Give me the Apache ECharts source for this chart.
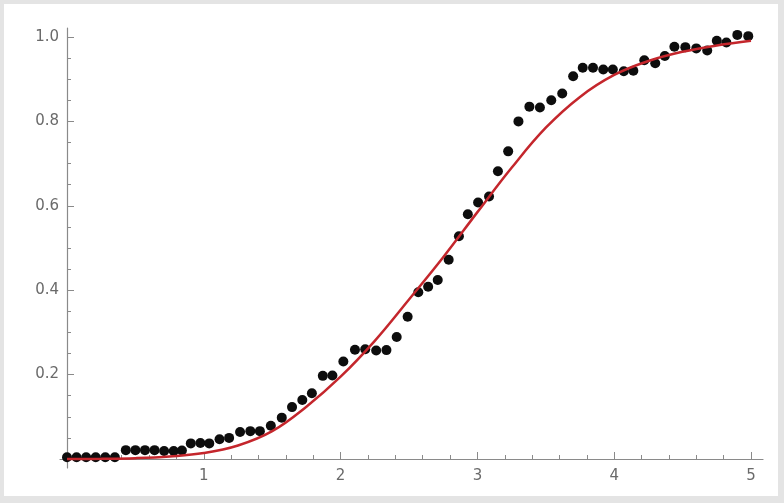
<!DOCTYPE html>
<html>
<head>
<meta charset="utf-8">
<script src="https://cdn.jsdelivr.net/npm/echarts@6.0.0/dist/echarts.min.js"></script>
<style>
  html, body { margin:0; padding:0; background:#e4e4e4; }
  #main { position:absolute; left:4px; top:4px; width:774px; height:492px; background:#fff; }
</style>
</head>
<body>
<div id="main"></div>
<script>
var dotX = [0, 0.07, 0.14, 0.21, 0.28, 0.35, 0.43, 0.50, 0.57, 0.64, 0.71, 0.78, 0.84,
	0.905, 0.975, 1.04, 1.115, 1.185, 1.265, 1.34, 1.41, 1.49, 1.57, 1.645, 1.72, 1.79,
	1.87, 1.94, 2.02, 2.105, 2.18, 2.26, 2.335, 2.41, 2.49, 2.568, 2.64, 2.71, 2.79,
	2.865, 2.93, 3.005, 3.085, 3.15, 3.225, 3.30, 3.38, 3.457, 3.54, 3.62, 3.70, 3.77,
	3.845, 3.92, 3.99, 4.07, 4.14, 4.22, 4.30, 4.37, 4.44, 4.52, 4.60, 4.68, 4.75,
	4.82, 4.90, 4.98];
var dotY = [0.004, 0.004, 0.004, 0.004, 0.004, 0.004, 0.021, 0.021, 0.021, 0.021, 0.019, 0.019, 0.02,
	0.037, 0.038, 0.037, 0.047, 0.05, 0.064, 0.066, 0.066, 0.079, 0.098, 0.123, 0.14, 0.156,
	0.197, 0.198, 0.231, 0.259, 0.26, 0.257, 0.258, 0.289, 0.337, 0.395, 0.408, 0.424, 0.472,
	0.528, 0.58, 0.608, 0.622, 0.682, 0.729, 0.80, 0.835, 0.833, 0.85, 0.866, 0.907, 0.927,
	0.927, 0.923, 0.923, 0.919, 0.92, 0.945, 0.938, 0.955, 0.977, 0.976, 0.973, 0.968, 0.991,
	0.987, 1.005, 1.002];

// fitted curve
var fitX = [0, 0.25, 0.5, 0.75, 1.0, 1.25, 1.5, 1.75, 2.0, 2.25, 2.5, 2.75, 3.0, 3.25,
	3.5, 3.75, 4.0, 4.25, 4.5, 4.75, 5.0];
var fitY = [0, 0.0005, 0.002, 0.006, 0.014, 0.032, 0.066, 0.124, 0.195, 0.28, 0.378, 0.478,
	0.585, 0.69, 0.785, 0.858, 0.91, 0.943, 0.965, 0.98, 0.991];

var xTicks = [0, 1, 2, 3, 4, 5];
var yTicks = [0, 0.2, 0.4, 0.6, 0.8, 1.0];

var Fitplot = {
	grey: '#8a8a8a',
	labelGrey: '#6a6a6a',

	pairs: function(xs, ys){
		var out = [];
		for (var i = 0; i < xs.length; i++) {
			out.push([xs[i], ys[i]]);
		}
		return out;
	},

	option: function(){
		var g = Fitplot.grey;
		return {
			animation: false,
			backgroundColor: '#fff',
			grid: [
				// data area
				{ left: 63, top: 33, width: 684, height: 422 },
				// slightly bigger box, only for the axis lines running past the ticks
				{ left: 56, top: 24, width: 703, height: 440 }
			],
			xAxis: [{
				type: 'value', gridIndex: 0,
				min: xTicks[0], max: xTicks[xTicks.length - 1], interval: 1,
				axisLine: { show: false },
				axisTick: { show: true, inside: true, length: 7, lineStyle: { color: g } },
				minorTick: { show: true, splitNumber: 5, length: 4, lineStyle: { color: g } },
				splitLine: { show: false },
				axisLabel: {
					color: Fitplot.labelGrey, fontSize: 15, fontFamily: 'DejaVu Sans', margin: 10,
					formatter: function(v){ return v === 0 ? '' : String(v); }
				}
			}, {
				type: 'value', gridIndex: 1, min: -0.051, max: 5.088,
				axisLine: { show: true, onZero: true, lineStyle: { color: g, width: 1.2 } },
				axisTick: { show: false }, axisLabel: { show: false }, splitLine: { show: false }
			}],
			yAxis: [{
				type: 'value', gridIndex: 0,
				min: yTicks[0], max: yTicks[yTicks.length - 1], interval: 0.2,
				axisLine: { show: false },
				axisTick: { show: true, inside: true, length: 7, lineStyle: { color: g } },
				minorTick: { show: true, splitNumber: 4, length: 4, lineStyle: { color: g } },
				splitLine: { show: false },
				axisLabel: {
					color: Fitplot.labelGrey, fontSize: 15, fontFamily: 'DejaVu Sans', margin: 8,
					formatter: function(v){ return v === 0 ? '' : v.toFixed(1); }
				}
			}, {
				type: 'value', gridIndex: 1, min: -0.0213, max: 1.0213,
				axisLine: { show: true, onZero: true, lineStyle: { color: g, width: 1.2 } },
				axisTick: { show: false }, axisLabel: { show: false }, splitLine: { show: false }
			}],
			series: [{
				name: 'data',
				type: 'scatter',
				xAxisIndex: 0, yAxisIndex: 0,
				clip: false,
				symbolSize: 10,
				itemStyle: { color: '#0d0d0d', opacity: 1 },
				data: Fitplot.pairs(dotX, dotY),
				z: 3
			}, {
				name: 'fit',
				type: 'line',
				xAxisIndex: 0, yAxisIndex: 0,
				clip: false,
				smooth: 0.4,
				showSymbol: false,
				lineStyle: { color: '#c4262c', width: 2.5 },
				data: Fitplot.pairs(fitX, fitY),
				z: 4
			}]
		};
	},

	init: function(){
		var chart = echarts.init(document.getElementById('main'));
		chart.setOption(Fitplot.option());
	}
};

Fitplot.init();
</script>
</body>
</html>
